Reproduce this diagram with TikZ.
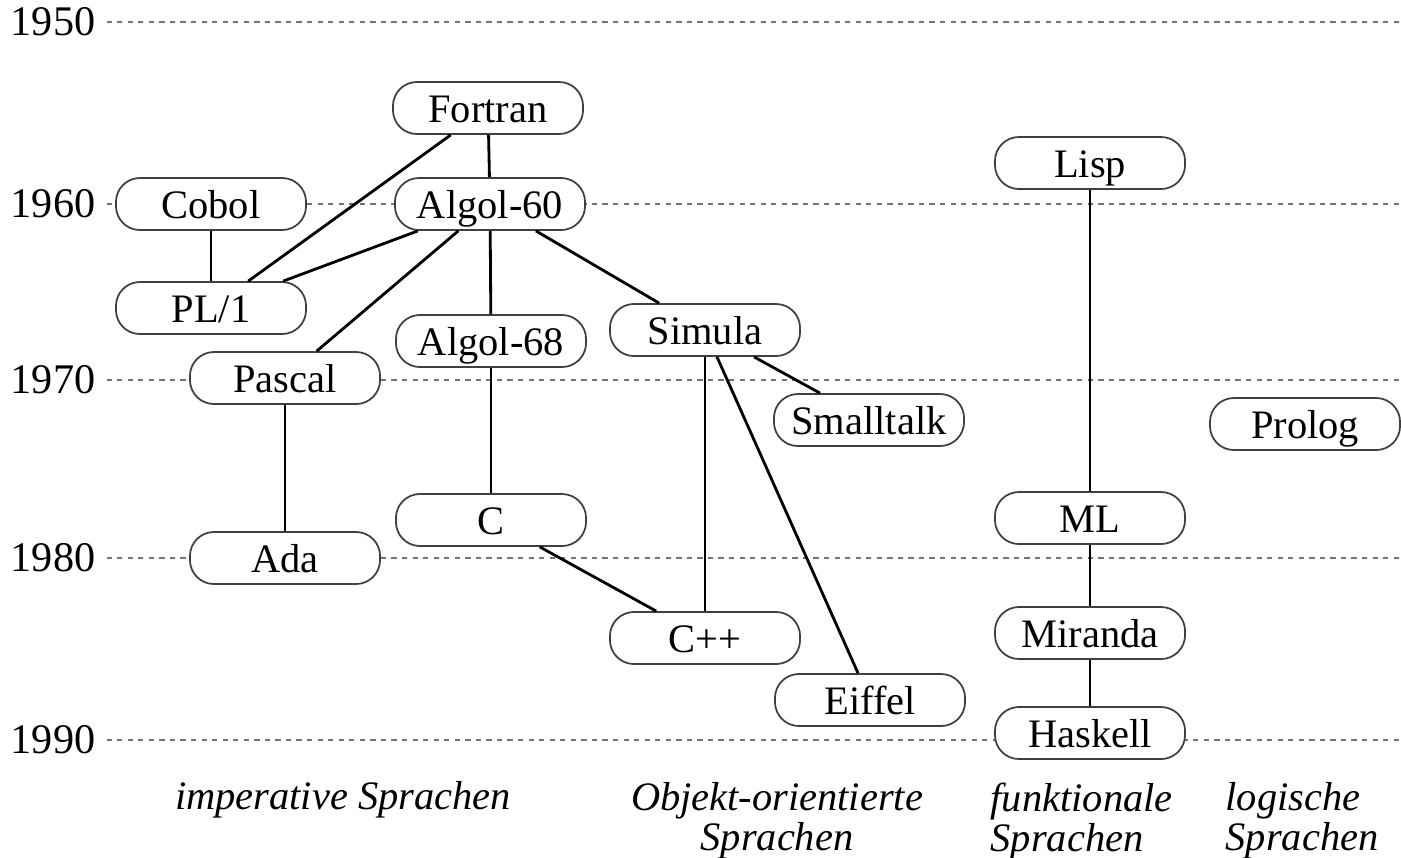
\documentclass[tikz,border=0pt]{standalone}
\usepackage{fontspec}
\setmainfont{Liberation Serif}
\begin{document}
\begin{tikzpicture}[x=0.01cm, y=-0.01cm,
  lang/.style={rectangle, draw=black!75, line width=0.5pt, fill=white, rounded corners=0.24cm,
    minimum width=1.9cm, minimum height=0.52cm, inner sep=0pt, text height=8.5pt, text depth=0.5pt,
    font=\fontsize{11.5}{13}\selectfont},
  year/.style={anchor=east, inner sep=0pt, font=\fontsize{12}{14}\selectfont},
  epoch/.style={dash pattern=on 1.5pt off 1.5pt, draw=black!55, line width=0.5pt},
  link/.style={line width=0.8pt},
  family/.style={inner sep=0pt, font=\fontsize{11.5}{9.8}\selectfont\itshape}]
  \useasboundingbox (0,0) rectangle (1401,857);
  \coordinate (rim) at (1401,0);
  \foreach \yr/\ypos in {1950/22,1960/204,1970/380,1980/558,1990/740} {
    \node[year] (y\yr) at (96,\ypos) {\yr};
    \draw[epoch] ([xshift=3pt]y\yr.east) -- (y\yr.east -| rim);
  }
  \node[lang] (fortran) at (488,108) {Fortran};
  \node[lang] (algol60) at (490,204) {Algol-60};
  \node[lang] (cobol) at (211,204) {Cobol};
  \node[lang] (pli) at (211,308) {PL/1};
  \node[lang] (algol68) at (491,341) {Algol-68};
  \node[lang] (pascal) at (285,378) {Pascal};
  \node[lang] (simula) at (705,330) {Simula};
  \node[lang] (smalltalk) at (869,420) {Smalltalk};
  \node[lang] (prolog) at (1305,424) {Prolog};
  \node[lang] (lisp) at (1090,163) {Lisp};
  \node[lang] (clang) at (491,520) {C};
  \node[lang] (ada) at (285,558) {Ada};
  \node[lang] (cpp) at (705,638) {C++};
  \node[lang] (eiffel) at (870,700) {Eiffel};
  \node[lang] (ml) at (1090,518) {ML};
  \node[lang] (miranda) at (1090,633) {Miranda};
  \node[lang] (haskell) at (1090,733) {Haskell};
  \draw[link] (fortran) -- (algol60);
  \draw[link] (fortran) -- (pli);
  \draw[link] (cobol) -- (pli);
  \draw[link] (algol60) -- (pli);
  \draw[link] (algol60) -- (pascal);
  \draw[link] (algol60) -- (algol68);
  \draw[link] (algol60) -- (simula);
  \draw[link] (algol68) -- (clang);
  \draw[link] (pascal) -- (ada);
  \draw[link] (simula) -- (smalltalk);
  \draw[link] (simula) -- (cpp);
  \draw[link] (simula) -- (eiffel);
  \draw[link] (clang) -- (cpp);
  \draw[link] (lisp) -- (ml);
  \draw[link] (ml) -- (miranda);
  \draw[link] (miranda) -- (haskell);
  \node[family] (imperative) at (343,800) {imperative Sprachen};
  \node[family, align=center, anchor=north] (objekt) at (777,782) {Objekt-orientierte\\Sprachen};
  \node[family, align=left, anchor=north west] (funktional) at (990,782) {funktionale\\Sprachen};
  \node[family, align=left, anchor=north west] (logisch) at (1225,782) {logische\\Sprachen};
\end{tikzpicture}
\end{document}
